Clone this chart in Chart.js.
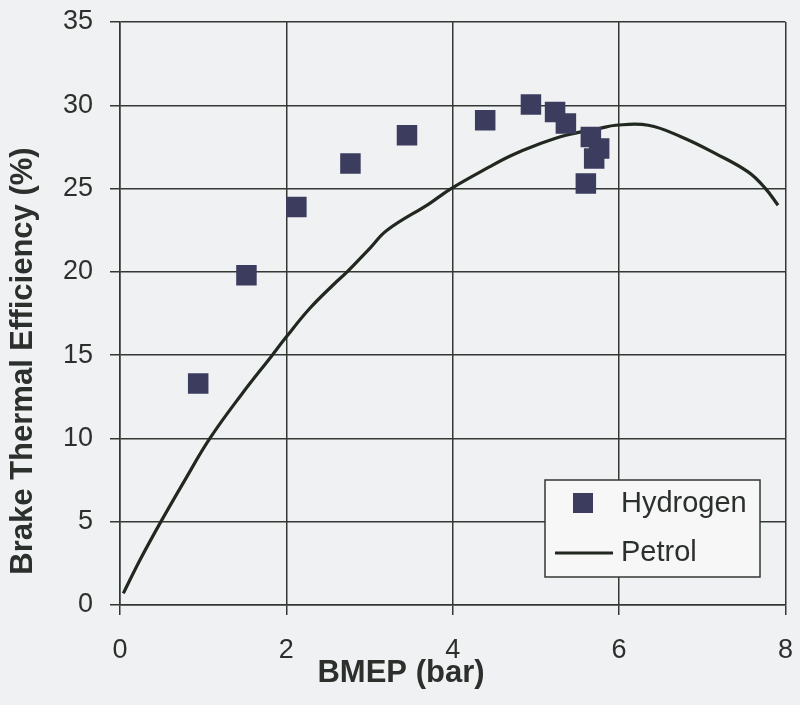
<!DOCTYPE html>
<html>
<head>
<meta charset="utf-8">
<title>Brake Thermal Efficiency vs BMEP</title>
<script src="https://cdn.jsdelivr.net/npm/chart.js@4"></script>
<style>
  html, body { margin: 0; padding: 0; background: #f0f1f3; }
  #wrap { width: 800px; height: 705px; }
</style>
</head>
<body>
<div id="wrap"><canvas id="effChart" width="800" height="705"></canvas></div>
<script>
// data
const hydrogenBmep = [0.94, 1.52, 2.12, 2.77, 3.45, 4.39, 4.94, 5.23, 5.36, 5.66, 5.76, 5.70, 5.60];
const hydrogenEff  = [13.3, 19.8, 23.9, 26.5, 28.2, 29.1, 30.05, 29.6, 28.9, 28.1, 27.4, 26.8, 25.3];

const petrolBmep = [0.04, 0.24, 0.48, 0.78, 1.08, 1.47, 1.83, 2.0, 2.28, 2.58, 2.73, 3.0, 3.21, 3.72, 3.98, 4.44, 4.71, 5.0, 5.36, 5.76, 5.96, 6.35, 6.75, 7.16, 7.55, 7.76, 7.91];
const petrolEff  = [0.7, 2.7, 4.9, 7.5, 10.0, 12.7, 15.0, 16.1, 17.8, 19.3, 20.0, 21.4, 22.5, 24.1, 25.0, 26.3, 27.0, 27.6, 28.2, 28.6, 28.8, 28.8, 28.1, 27.1, 26.0, 25.0, 24.0];

const xTicks = [0, 2, 4, 6, 8];
const yTicks = [0, 5, 10, 15, 20, 25, 30, 35];

const xTitle = 'BMEP (bar)';
const yTitle = 'Brake Thermal Efficiency (%)';

const inkColor = '#2c302c';
const gridColor = '#333833';
const markColor = '#3c3d5e';
const lineColor = '#202820';

function toPoints(xs, ys) {
  return xs.map((x, i) => ({ x: x, y: ys[i] }));
}

// page background
const bgPlugin = {
  id: 'bg',
  beforeDraw(chart) {
    const ctx = chart.ctx;
    ctx.save();
    ctx.fillStyle = '#f0f1f3';
    ctx.fillRect(0, 0, chart.width, chart.height);
    ctx.restore();
  }
};

// axis titles, centred on the canvas like the original
const titlePlugin = {
  id: 'axisTitles',
  afterDraw(chart) {
    const ctx = chart.ctx;
    ctx.save();
    ctx.fillStyle = inkColor;
    ctx.font = 'bold 31px "Liberation Sans", Arial, sans-serif';
    ctx.textAlign = 'center';
    ctx.textBaseline = 'middle';
    ctx.fillText(xTitle, 401, 673);
    ctx.translate(23, 361);
    ctx.rotate(-Math.PI / 2);
    ctx.fillText(yTitle, 0, 0);
    ctx.restore();
  }
};

// boxed legend sitting inside the plot, lower right
const legendPlugin = {
  id: 'boxLegend',
  afterDatasetsDraw(chart) {
    const ctx = chart.ctx;
    const ds = chart.data.datasets;
    ctx.save();
    ctx.fillStyle = '#f7f7f8';
    ctx.fillRect(545, 480, 215, 97);
    ctx.strokeStyle = gridColor;
    ctx.lineWidth = 1.5;
    ctx.strokeRect(545, 480, 215, 97);

    ctx.fillStyle = markColor;
    ctx.fillRect(573, 493, 20, 20);

    ctx.strokeStyle = lineColor;
    ctx.lineWidth = 3;
    ctx.beginPath();
    ctx.moveTo(555, 553);
    ctx.lineTo(613, 553);
    ctx.stroke();

    ctx.fillStyle = inkColor;
    ctx.font = '29px "Liberation Sans", Arial, sans-serif';
    ctx.textAlign = 'left';
    ctx.textBaseline = 'middle';
    ctx.fillText(ds[0].label, 621, 504);
    ctx.fillText(ds[1].label, 621, 553);
    ctx.restore();
  }
};

const ctx = document.getElementById('effChart').getContext('2d');
const effChart = new Chart(ctx, {
  type: 'scatter',
  data: {
    datasets: [{
      label: 'Hydrogen',
      data: toPoints(hydrogenBmep, hydrogenEff),
      pointStyle: 'rect',
      pointRadius: 14.5,
      pointHoverRadius: 14.5,
      backgroundColor: markColor,
      borderColor: markColor,
      borderWidth: 0,
      order: 1
    }, {
      label: 'Petrol',
      type: 'line',
      data: toPoints(petrolBmep, petrolEff),
      showLine: true,
      fill: false,
      pointRadius: 0,
      borderColor: lineColor,
      borderWidth: 3.2,
      tension: 0.4,
      order: 2
    }]
  },
  options: {
    responsive: false,
    animation: false,
    events: [],
    layout: { padding: { top: 22, right: 11, bottom: 0, left: 0 } },
    plugins: {
      legend: { display: false },
      tooltip: { enabled: false }
    },
    scales: {
      x: {
        type: 'linear',
        min: 0,
        max: 8,
        afterBuildTicks(scale) {
          scale.ticks = xTicks.map(v => ({ value: v }));
        },
        afterFit(scale) {
          scale.height = 100;
          scale.paddingLeft = 0;
          scale.paddingRight = 0;
        },
        grid: { color: gridColor, lineWidth: 1.5, tickLength: 10, tickColor: gridColor },
        border: { color: gridColor, width: 1.5 },
        ticks: {
          color: inkColor,
          padding: 19,
          maxRotation: 0,
          font: { family: '"Liberation Sans", Arial, sans-serif', size: 27 }
        }
      },
      y: {
        min: 0,
        max: 35,
        afterBuildTicks(scale) {
          scale.ticks = yTicks.map(v => ({ value: v }));
        },
        afterFit(scale) {
          scale.width = 120;
          scale.paddingTop = 0;
          scale.paddingBottom = 0;
        },
        grid: { color: gridColor, lineWidth: 1.5, tickLength: 10, tickColor: gridColor },
        border: { color: gridColor, width: 1.5 },
        ticks: {
          color: inkColor,
          padding: 17,
          font: { family: '"Liberation Sans", Arial, sans-serif', size: 27 }
        }
      }
    }
  },
  plugins: [bgPlugin, legendPlugin, titlePlugin]
});
</script>
</body>
</html>
